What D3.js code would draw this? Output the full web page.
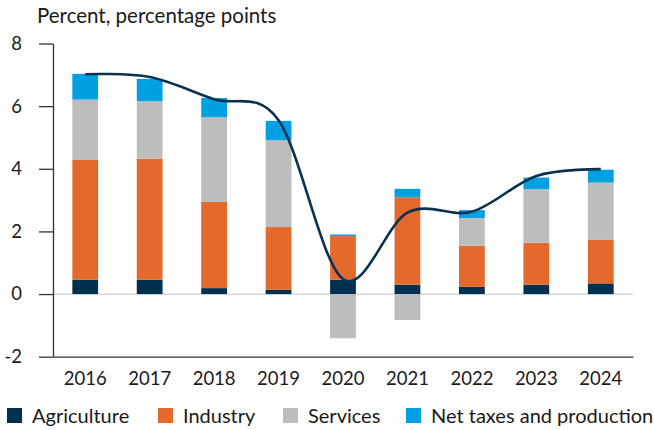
<!DOCTYPE html>
<html>
<head>
<meta charset="utf-8">
<script src="https://cdn.jsdelivr.net/npm/d3@7"></script>
<style>
  body { margin: 0; background: #fff; }
  svg text { font-family: "Source Sans Pro", Lato, sans-serif; fill: #1a1a1a; }
</style>
</head>
<body>
<svg width="654" height="430"></svg>
<script>
var years = ['2016', '2017', '2018', '2019', '2020', '2021', '2022', '2023', '2024'];
var agriculture = [0.46, 0.46, 0.19, 0.14, 0.46, 0.30, 0.23, 0.30, 0.34];
var industry = [3.82, 3.86, 2.75, 2.00, 1.39, 2.79, 1.31, 1.34, 1.39];
var services = [1.93, 1.84, 2.71, 2.77, -1.41, -0.83, 0.89, 1.71, 1.83];
var netTaxes = [0.82, 0.71, 0.61, 0.62, 0.05, 0.27, 0.25, 0.37, 0.41];
var gdpGrowth = [7.02, 6.93, 6.22, 5.55, 0.48, 2.60, 2.63, 3.77, 3.99];
var yTicks = [-2, 0, 2, 4, 6, 8];
var seriesNames = ['Agriculture', 'Industry', 'Services', 'Net taxes and production'];
var seriesKeys = ['agri', 'ind', 'serv', 'tax'];
var colors = ['#00304f', '#e36a2c', '#bdbdbd', '#00a0e2'];

var svg = d3.select('svg');

var table = years.map(function (y, i) {
  return { year: y, agri: agriculture[i], ind: industry[i], serv: services[i], tax: netTaxes[i] };
});

var x = d3.scaleBand()
  .domain(years)
  .range([53, 633])
  .paddingInner(0.6)
  .paddingOuter(0.3);

var y = d3.scaleLinear()
  .domain([-2, 8])
  .range([356.7, 43.5]);

// title
svg.append('text')
  .text('Percent, percentage points')
  .attr('x', 37)
  .attr('y', 23)
  .attr('font-size', 20.5);

// zero line
svg.append('line')
  .attr('x1', 53)
  .attr('x2', 633)
  .attr('y1', y(0))
  .attr('y2', y(0))
  .attr('stroke', '#cfcfcf')
  .attr('stroke-width', 1.2);

// stacked bars
var stack = d3.stack()
  .keys(seriesKeys)
  .offset(d3.stackOffsetDiverging);

var layers = stack(table);

svg.append('g')
  .selectAll('g')
  .data(layers)
  .join('g')
  .attr('fill', function (d, i) { return colors[i]; })
  .selectAll('rect')
  .data(function (d) { return d; })
  .join('rect')
  .attr('x', function (d) { return x(d.data.year); })
  .attr('width', x.bandwidth())
  .attr('y', function (d) { return y(Math.max(d[0], d[1])); })
  .attr('height', function (d) { return Math.abs(y(d[0]) - y(d[1])); });

// y axis
var yAxis = svg.append('g')
  .attr('transform', 'translate(53,0)')
  .call(d3.axisLeft(y).tickValues(yTicks).tickSize(14).tickSizeOuter(0).tickPadding(17)
    .tickFormat(function (d) { return d; }));
yAxis.selectAll('path, line').attr('stroke', '#333').attr('stroke-width', 1.3);
yAxis.selectAll('text').attr('font-size', 18.5).attr('font-family', null).attr('fill', '#1a1a1a');

// x axis
var xAxis = svg.append('g')
  .attr('transform', 'translate(0,' + y(-2) + ')')
  .call(d3.axisBottom(x).tickSize(0).tickSizeOuter(0).tickPadding(15));
xAxis.select('path').attr('stroke', '#333').attr('stroke-width', 1.3);
xAxis.selectAll('text').attr('font-size', 18.5).attr('font-family', null).attr('fill', '#1a1a1a');

// gdp growth line (smoothed)
var line = d3.line()
  .x(function (d, i) { return x(years[i]) + x.bandwidth() / 2; })
  .y(function (d) { return y(d); })
  .curve(d3.curveCardinal.tension(0));

svg.append('path')
  .datum(gdpGrowth)
  .attr('d', line)
  .attr('fill', 'none')
  .attr('stroke', '#0a3150')
  .attr('stroke-width', 2.6);

// legend
var legendX = [7, 158, 283, 406];
var legend = svg.append('g')
  .selectAll('g')
  .data(seriesNames)
  .join('g')
  .attr('transform', function (d, i) { return 'translate(' + legendX[i] + ',408)'; });

legend.append('rect')
  .attr('width', 15)
  .attr('height', 15)
  .attr('fill', function (d, i) { return colors[i]; });

legend.append('text')
  .text(function (d) { return d; })
  .attr('x', 25)
  .attr('y', 15)
  .attr('font-size', 20);
</script>
</body>
</html>
